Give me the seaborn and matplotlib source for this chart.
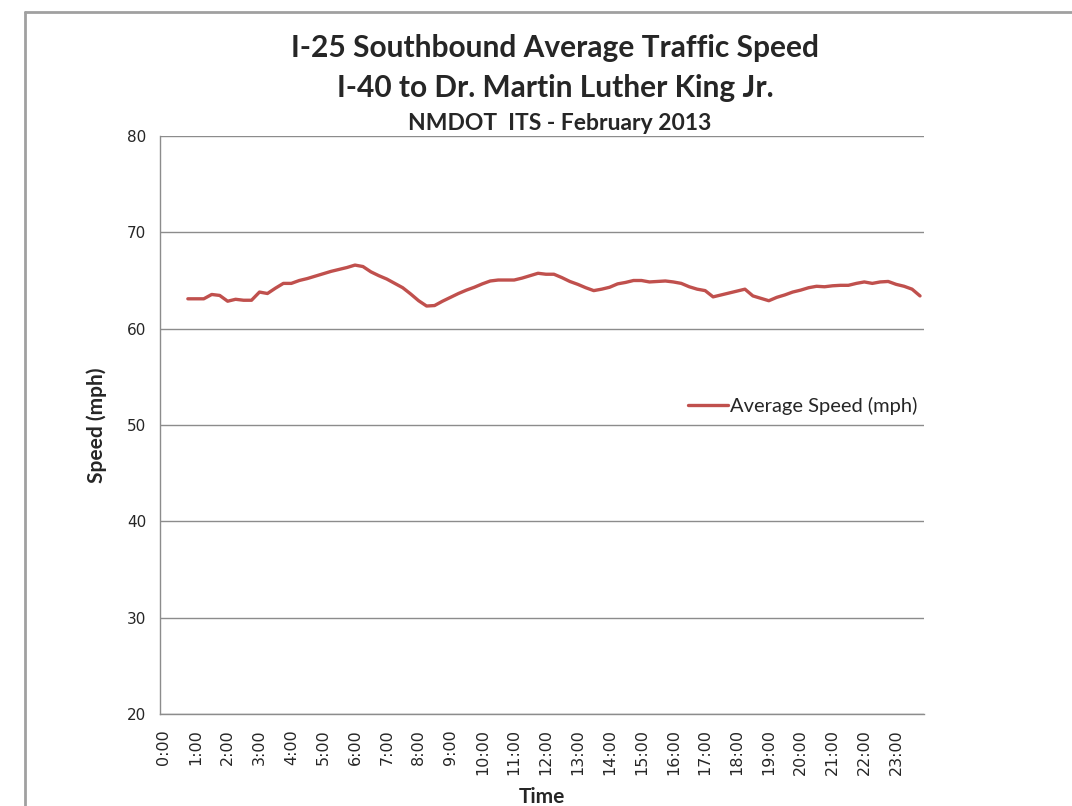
import numpy as np
import pandas as pd
import matplotlib.pyplot as plt
import seaborn as sns
from matplotlib.lines import Line2D
from matplotlib.transforms import ScaledTranslation

# 15-minute categories across the day; data begins at 0:45
slots = list(range(96))
hour_labels = [f"{h}:00" for h in range(24)]
speed = [np.nan, np.nan, np.nan,
         63.1, 63.1, 63.1, 63.55, 63.45, 62.85, 63.05, 62.95, 62.95, 63.8,
         63.65, 64.2, 64.7, 64.7, 65.0, 65.2, 65.45, 65.7, 65.95, 66.15,
         66.35, 66.6, 66.45, 65.9, 65.5, 65.15, 64.7, 64.25, 63.6, 62.9,
         62.35, 62.4, 62.85, 63.25, 63.65, 64.0, 64.3, 64.65, 64.95, 65.05,
         65.05, 65.05, 65.25, 65.5, 65.75, 65.65, 65.65, 65.3, 64.9, 64.6,
         64.25, 63.95, 64.1, 64.3, 64.65, 64.8, 65.0, 65.0, 64.85, 64.9,
         64.95, 64.85, 64.7, 64.35, 64.1, 63.95, 63.3, 63.5, 63.7, 63.9,
         64.1, 63.4, 63.15, 62.9, 63.25, 63.5, 63.8, 64.0, 64.25, 64.4,
         64.35, 64.45, 64.5, 64.5, 64.7, 64.85, 64.7, 64.85, 64.9, 64.6,
         64.4, 64.1, 63.4]

df = pd.DataFrame({"slot": slots, "Average Speed (mph)": speed})

sns.set_style("white")
plt.rcParams['font.family'] = ['Lato', 'DejaVu Sans']

fig = plt.figure(figsize=(10.72, 8.06), dpi=100)
ax = fig.add_axes([160 / 1072, 1 - 714 / 806, 764 / 1072, 578 / 806])

sns.lineplot(data=df, x="slot", y="Average Speed (mph)", ax=ax,
             color="#C0504D", linewidth=2.4, label="Average Speed (mph)")

ax.set_xlim(-0.5, 95.5)
ax.set_ylim(20, 80)
ax.set_yticks(range(20, 81, 10))
ax.grid(axis="y", color="#8C8C8C", linewidth=1)
ax.set_axisbelow(True)

ax.set_xticks(slots[::4])
ax.set_xticklabels(hour_labels, rotation=90, fontsize=11.5, color="#262626",
                   family="DejaVu Sans")
# Excel draws the hour labels a few pixels right of the category centre
shift = ScaledTranslation(4 / 100, 0, fig.dpi_scale_trans)
for t in ax.get_xticklabels():
    t.set_transform(t.get_transform() + shift)
ax.set_xticks(np.arange(-0.5, 96, 1), minor=True)
ax.tick_params(axis="x", which="major", length=0, pad=11)
ax.tick_params(axis="x", which="minor", length=4, color="#8C8C8C", width=1, direction="out")
ax.tick_params(axis="y", length=5, color="#8C8C8C", labelsize=11, labelcolor="#262626", pad=5)
for t in ax.get_yticklabels():
    t.set_family("DejaVu Sans")

for s in ["top", "right"]:
    ax.spines[s].set_visible(False)
for s in ["left", "bottom"]:
    ax.spines[s].set_color("#8C8C8C")
    ax.spines[s].set_linewidth(1)

ax.set_xlabel("Time", fontsize=15, fontweight="bold", labelpad=8)
ax.set_ylabel("Speed (mph)", fontsize=15, fontweight="bold", labelpad=14)

ax.legend(loc="center left", bbox_to_anchor=(688 / 1072, 1 - 406 / 806),
          bbox_transform=fig.transFigure, frameon=False, fontsize=14.5,
          handlelength=2.0, handletextpad=0.1, borderaxespad=0, borderpad=0)

fig.text(0.518, 1 - 48 / 806, "I-25 Southbound Average Traffic Speed",
         ha="center", va="center", fontsize=21.5, fontweight="bold")
fig.text(0.518, 1 - 88 / 806, "I-40 to Dr. Martin Luther King Jr.",
         ha="center", va="center", fontsize=21.5, fontweight="bold")
fig.text(0.522, 1 - 123 / 806, "NMDOT  ITS - February 2013",
         ha="center", va="center", fontsize=16.5, fontweight="bold")

# chart-area border (top and left edges visible)
fig.add_artist(Line2D([25 / 1072, 1], [1 - 12 / 806, 1 - 12 / 806],
                      transform=fig.transFigure, color="#A0A0A0", linewidth=2))
fig.add_artist(Line2D([25 / 1072, 25 / 1072], [0, 1 - 12 / 806],
                      transform=fig.transFigure, color="#A0A0A0", linewidth=2))

fig.savefig("out.png", dpi=100)
